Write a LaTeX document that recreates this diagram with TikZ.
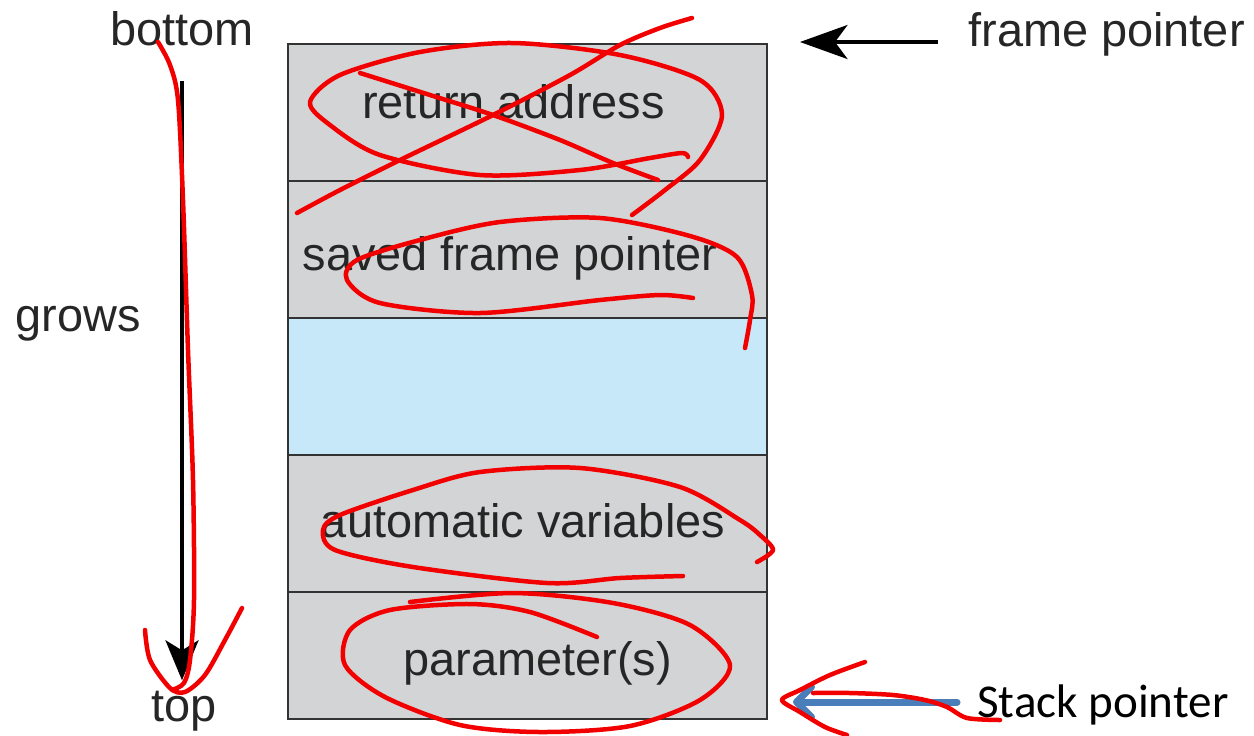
\documentclass[tikz,border=0pt]{standalone}
\usepackage{fontspec}
\setmainfont{Liberation Sans}
\newfontfamily\calibri{Carlito}
\usetikzlibrary{positioning,arrows.meta}

\definecolor{boxgrey}{HTML}{D3D4D6}
\definecolor{boxblue}{HTML}{C6E8F8}
\definecolor{ptrblue}{HTML}{4A7EBB}
\definecolor{inkred}{HTML}{F20000}

\tikzset{
  stackbox/.style={draw=black!80, line width=0.04cm, fill=boxgrey, outer sep=0pt,
    minimum width=9.58cm, minimum height=2.74cm, inner sep=0pt},
  lbl/.style={inner sep=0pt, text=black!85},
  scribble/.style={inkred, line width=0.09cm, line cap=round, line join=round}
}

\begin{document}
\begin{tikzpicture}[x=0.02cm, y=-0.02cm, font=\fontsize{26.7pt}{32pt}\selectfont]
        \useasboundingbox[fill=white] (0,0) rectangle (1254,735);

        % Stack frame
        \node[stackbox] (retaddr) at (527.5,112.5) {};
        \node[stackbox, below=0pt of retaddr] (savedfp) {};
        \node[stackbox, below=0pt of savedfp, fill=boxblue] (blank) {};
        \node[stackbox, below=0pt of blank] (autovars) {};
        \node[stackbox, below=0pt of autovars, minimum height=2.54cm] (params) {};

        % Frame contents
        \node[lbl, anchor=base] (rettxt) at (513.5,118) {return address};
        \node[lbl, anchor=base] (savedtxt) at (510,270) {saved frame pointer};
        \node[lbl, anchor=base] (autotxt) at (523,537) {automatic variables};
        \node[lbl, anchor=base] (paramtxt) at (537.5,675) {parameter(s)};

        % Growth direction
        \node[lbl, anchor=base] (bottomlbl) at (182,45) {bottom};
        \node[lbl, anchor=base west] (growslbl) at (15,331) {grows};
        \node[lbl, anchor=base] (toplbl) at (184,721) {top};
        \draw[line width=0.08cm, -{Stealth[length=0.8cm,width=0.66cm,inset=0.2cm]},
              shorten <=0.7cm, shorten >=0.2cm]
              (bottomlbl.south) -- (bottomlbl.south |- toplbl.north);

        % Frame pointer
        \node[lbl, anchor=base west] (frameptr) at (968,46) {frame pointer};
        \coordinate (fptip) at (800,42);
        \draw[line width=0.07cm, -{Stealth[length=0.95cm,width=0.68cm,inset=0.25cm]},
              shorten <=0.6cm] (frameptr.west |- fptip) -- (fptip);

        % Stack pointer
        \node[lbl, anchor=base west, font=\calibri\fontsize{26.8pt}{32pt}\selectfont, text=black]
              (stackptr) at (977,717) {Stack pointer};
        \coordinate (sptip) at (793,702);
        \draw[ptrblue, line width=0.14cm, line cap=round,
              -{Straight Barb[length=0.3cm,width=0.6cm,round]},
              shorten <=0.4cm] (stackptr.west |- sptip) -- (sptip);

        % Red ink
        \draw[scribble] plot[smooth] coordinates {(632,215) (665,190) (700,160) (722,115) (700,80)
              (620,55) (513,43) (420,52) (340,75) (310,102) (330,125) (380,155) (480,175)
              (580,170) (650,158) (682,153) (688,157)};
        \draw[scribble] plot[smooth] coordinates {(297,213) (340,190) (400,160) (493,115)
              (570,75) (620,45) (660,28) (692,18)};
        \draw[scribble] plot[smooth] coordinates {(360,73) (430,95) (493,115) (560,140)
              (613,163) (658,180)};
        \draw[scribble] plot[smooth] coordinates {(745,348) (750,320) (752,295) (737,257)
              (690,236) (600,218) (500,222) (420,240) (357,260) (347,280) (380,303)
              (480,313) (600,300) (660,295) (693,298)};
        \draw[scribble] plot[smooth] coordinates {(757,562) (773,550) (760,535) (740,520)
              (680,487) (580,468) (480,472) (413,490) (340,515) (323,530) (335,550)
              (413,567) (547,583) (620,578) (683,576)};
        \draw[scribble] plot[smooth] coordinates {(410,602) (513,593) (613,603) (690,625)
              (730,665) (700,700) (630,726) (540,732) (460,725) (385,697) (345,665)
              (350,630) (390,610) (470,604) (530,612) (597,637)};
        \draw[scribble] plot[smooth] coordinates {(158,42) (170,65) (178,100) (183,200)
              (188,350) (193,480) (194,600) (190,660) (184,683) (172,690)};
        \draw[scribble] plot[smooth] coordinates {(145,630) (150,660) (170,688) (185,692)
              (205,675) (225,640) (242,608)};
        \draw[scribble] plot[smooth] coordinates {(813,693) (850,693) (893,695) (925,700)
              (947,707) (967,718) (1000,720)};
        \draw[scribble] plot[smooth] coordinates {(865,662) (830,675) (800,690) (782,700)
              (800,712) (825,727) (847,735)};
\end{tikzpicture}
\end{document}
